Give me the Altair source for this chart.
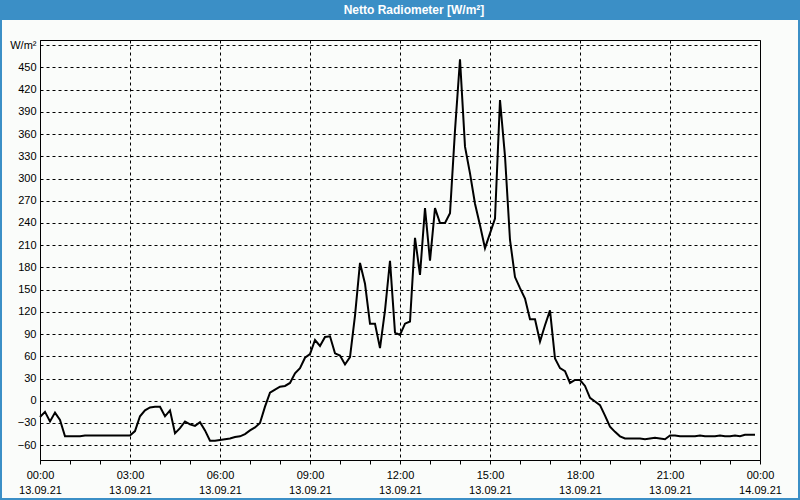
import altair as alt
import pandas as pd

# ---- data ----
title_text = "Netto Radiometer [W/m²]"
start_time = "2021-09-13 00:00"
sample_step = "10min"
radiation = [
    -22, -15, -28, -16, -26, -48, -48, -48, -48, -47,
    -47, -47, -47, -47, -47, -47, -47, -47, -47, -41,
    -21, -13, -9, -8, -8, -21, -13, -44, -37, -28,
    -32, -34, -29, -40, -54, -54, -53, -52, -51, -49,
    -48, -45, -40, -36, -30, -8, 11, 15, 19, 20,
    24, 37, 44, 58, 63, 82, 74, 86, 87, 64,
    61, 49, 59, 115, 186, 158, 104, 104, 71, 122,
    189, 92, 89, 104, 107, 220, 170, 260, 189, 260,
    240, 240, 253, 365, 461, 343, 307, 266, 237, 206,
    226, 246, 406, 330, 217, 167, 152, 138, 110, 110,
    80, 102, 122, 57, 44, 40, 24, 28, 28, 20,
    4, -1, -6, -20, -35, -42, -48, -51, -51, -51,
    -51, -52, -51, -50, -51, -52, -47, -47, -48, -48,
    -48, -48, -47, -48, -48, -48, -47, -48, -48, -47,
    -48, -46, -46, -46,
]
y_tick_values = [-60, -30, 0, 30, 60, 90, 120, 150, 180, 210, 240, 270, 300,
                 330, 360, 390, 420, 450, 480]
x_tick_hours = list(range(24))

times = pd.date_range(start_time, periods=len(radiation), freq=sample_step)
df = pd.DataFrame({"time": times, "value": radiation})

x_ticks = [alt.DateTime(year=2021, month=9, date=13, hours=h) for h in x_tick_hours] + [
    alt.DateTime(year=2021, month=9, date=14, hours=0)
]
x_domain = [alt.DateTime(year=2021, month=9, date=13, hours=0),
            alt.DateTime(year=2021, month=9, date=14, hours=0)]

FONT = "Liberation Sans"
BLUE = "#3b8fc6"
BG = "#fafcfa"

line = alt.Chart(df).mark_line(color="black", strokeWidth=2).encode(
    x=alt.X(
        "time:T",
        scale=alt.Scale(domain=x_domain),
        axis=alt.Axis(
            title=None,
            values=x_ticks,
            labelExpr="hours(datum.value) % 3 === 0 ? [timeFormat(datum.value, '%H:%M'), timeFormat(datum.value, '%d.%m.%y')] : ''",
            labelOverlap=False,
            labelFlush=False,
            labelBound=False,
            labelFont=FONT,
            labelFontSize=11,
            labelColor="black",
            labelBaseline="top",
            labelLineHeight=15,
            labelPadding=5,
            tickSize=4,
            tickColor="black",
            domainColor="black",
            grid=True,
            gridColor="black",
            gridDash=[3, 3],
            gridWidth=1,
            gridOpacity={"condition": {"test": "hours(datum.value) % 3 === 0", "value": 1}, "value": 0},
        ),
    ),
    y=alt.Y(
        "value:Q",
        scale=alt.Scale(domain=[-80, 487], nice=False, zero=False),
        axis=alt.Axis(
            title=None,
            values=y_tick_values,
            labelExpr="datum.value == 480 ? 'W/m²' : datum.label",
            labelFont=FONT,
            labelFontSize=11,
            labelColor="black",
            labelPadding=4,
            ticks=False,
            domainColor="black",
            grid=True,
            gridColor="black",
            gridDash=[3, 3],
            gridWidth=1,
        ),
    ),
)

deco_src = pd.DataFrame({"k": [0]})

title_bar = alt.Chart(deco_src).mark_rect(color=BLUE).encode(
    x=alt.value(-40), x2=alt.value(760), y=alt.value(-40), y2=alt.value(-20)
)
left_border = alt.Chart(deco_src).mark_rect(color=BLUE).encode(
    x=alt.value(-40), x2=alt.value(-38), y=alt.value(-40), y2=alt.value(460)
)
right_border = alt.Chart(deco_src).mark_rect(color=BLUE).encode(
    x=alt.value(758), x2=alt.value(760), y=alt.value(-40), y2=alt.value(460)
)
bottom_border = alt.Chart(deco_src).mark_rect(color=BLUE).encode(
    x=alt.value(-40), x2=alt.value(760), y=alt.value(458), y2=alt.value(460)
)
title_label = alt.Chart(deco_src).mark_text(
    text=title_text, font=FONT, fontWeight="bold", fontSize=12, color="white",
    align="center", baseline="middle",
).encode(x=alt.value(374), y=alt.value(-30))

chart = alt.layer(
    line, title_bar, left_border, right_border, bottom_border, title_label
).properties(
    width=720,
    height=420,
    padding={"left": 40, "top": 40, "right": 40, "bottom": 40},
    autosize=alt.AutoSizeParams(type="none"),
    background=BG,
).configure_view(
    stroke="black", strokeWidth=1, fill=BG
)

chart.save("out.html", embed_options={"renderer": "svg", "actions": False})
